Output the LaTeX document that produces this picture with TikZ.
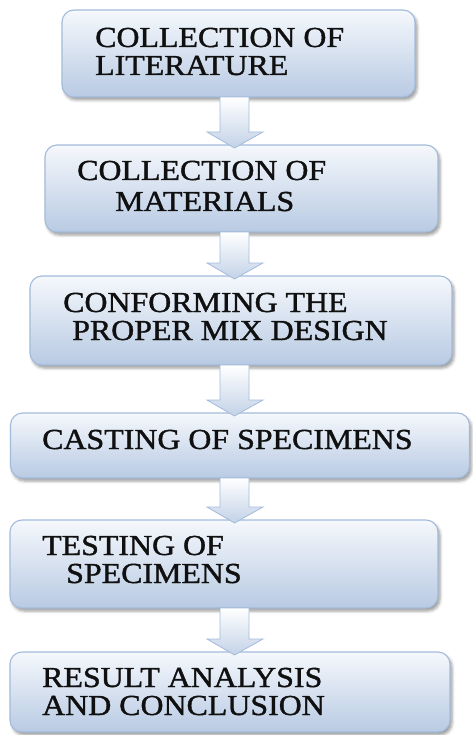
\documentclass[tikz,border=0pt]{standalone}
\usepackage{fontspec}
\newfontfamily\boxfont[FakeStretch=1.1,FakeBold=1.3]{Liberation Serif}
\usetikzlibrary{calc,shadows.blur}
\definecolor{boxtop}{HTML}{F5F8FC}
\definecolor{boxbottom}{HTML}{B8CAE3}
\definecolor{boxline}{HTML}{A3BBDB}
\definecolor{inktext}{HTML}{101010}

% block arrow from the bottom of one box to the top of the next
\newcommand\linkboxes[2]{%
  \path[blockarrow] let \p1=(#1.south), \p2=(#2.north) in
    (220pt,\y1) -- (249pt,\y1) -- (249pt,\y2+13pt) -- (263pt,\y2+13pt)
    -- (234.5pt,\y2-3pt) -- (207pt,\y2+13pt) -- (220pt,\y2+13pt) -- cycle;}

\begin{document}
\begin{tikzpicture}[x=1pt,y=-1pt,
  stepbox/.style={draw=boxline, line width=1.1pt, rounded corners=12pt,
    top color=boxtop, bottom color=boxbottom, inner sep=0pt, outer sep=0pt,
    blur shadow={shadow xshift=2pt, shadow yshift=-3pt, shadow opacity=40,
      shadow blur radius=3pt}},
  blockarrow/.style={draw=boxline, line width=0.8pt, line join=miter,
    top color=white, bottom color=boxbottom!85},
  lbl/.style={anchor=base west, inner sep=0pt, text=inktext,
    font=\boxfont\fontsize{29}{29}\selectfont}]
\useasboundingbox (0,0) rectangle (472,735);

% process boxes
\node[stepbox, minimum width=353pt, minimum height=87pt] (b1) at (238.5,53.5) {};
\node[stepbox, minimum width=393pt, minimum height=87pt] (b2) at (241.5,188.5) {};
\node[stepbox, minimum width=422pt, minimum height=89pt] (b3) at (241,320.5) {};
\node[stepbox, minimum width=459pt, minimum height=65pt] (b4) at (240,445.5) {};
\node[stepbox, minimum width=428pt, minimum height=88pt] (b5) at (224,564) {};
\node[stepbox, minimum width=440pt, minimum height=80pt] (b6) at (230,692) {};

% connectors
\linkboxes{b1}{b2}
\linkboxes{b2}{b3}
\linkboxes{b3}{b4}
\linkboxes{b4}{b5}
\linkboxes{b5}{b6}

% labels
\node[lbl] (t1a) at (95,47) {COLLECTION OF};
\node[lbl] (t1b) at (95,75) {LITERATURE};
\node[lbl] (t2a) at (77,180) {COLLECTION OF};
\node[lbl] (t2b) at (115,211) {MATERIALS};
\node[lbl] (t3a) at (63,312) {CONFORMING THE};
\node[lbl] (t3b) at (72,340) {PROPER MIX DESIGN};
\node[lbl] (t4a) at (42,449) {CASTING OF SPECIMENS};
\node[lbl] (t5a) at (42,555) {TESTING OF};
\node[lbl] (t5b) at (66,583) {SPECIMENS};
\node[lbl] (t6a) at (42,687) {RESULT ANALYSIS};
\node[lbl] (t6b) at (42,715) {AND CONCLUSION};
\end{tikzpicture}
\end{document}
